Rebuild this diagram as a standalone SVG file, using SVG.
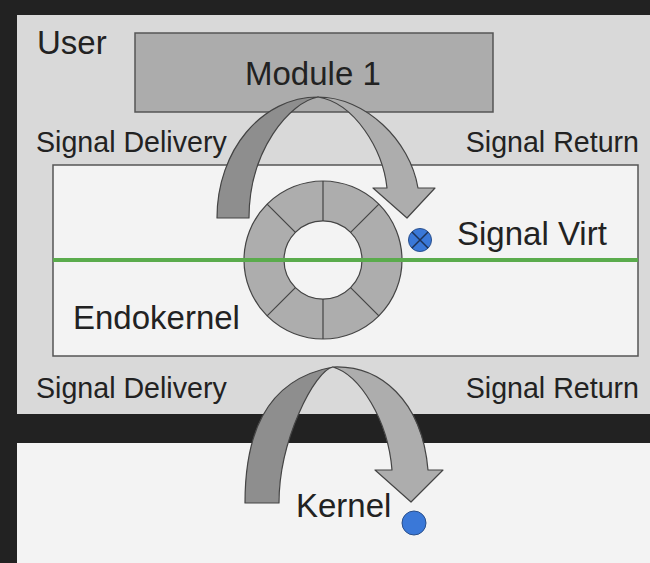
<svg xmlns="http://www.w3.org/2000/svg" width="650" height="563" viewBox="0 0 650 563">
  <style>
    text { font-family: "Liberation Sans", Arial, Helvetica, sans-serif; fill: #222; }
    .big { font-size: 33px; }
    .sig { font-size: 28.6px; }
    .box { stroke: #555; stroke-width: 1.5; }
    .edge { stroke: #444; stroke-width: 1.2; stroke-linejoin: round; }
    .dark { fill: #8e8e8e; }
    .light { fill: #adadad; }
    .dot { fill: #3a78d8; stroke: #2a4f8a; stroke-width: 1; }
  </style>

  <!-- background frame -->
  <rect x="0" y="0" width="650" height="563" fill="#222"/>

  <!-- user space panel -->
  <g id="user">
    <rect x="17" y="15" width="633" height="399" fill="#d9d9d9"/>
    <text class="big" x="37" y="54">User</text>
  </g>

  <!-- kernel panel -->
  <g id="kernel">
    <rect x="17" y="443" width="633" height="120" fill="#f3f3f3"/>
    <text class="big" x="296" y="517">Kernel</text>
  </g>

  <!-- module box -->
  <g id="module1">
    <rect class="box" x="135" y="33" width="358" height="79" fill="#acacac"/>
    <text class="big" x="245" y="85">Module 1</text>
  </g>

  <!-- endokernel box -->
  <g id="endokernel">
    <rect class="box" x="53" y="165" width="585" height="191" fill="#f3f3f3"/>
    <text class="big" x="73" y="329">Endokernel</text>
  </g>

  <!-- gate ring -->
  <g id="ring">
    <path class="edge light" fill-rule="evenodd"
          d="M402,260 A79,79 0 1 0 244,260 A79,79 0 1 0 402,260 Z M362,260 A39,39 0 1 1 284,260 A39,39 0 1 1 362,260 Z"/>
    <g class="edge">
      <line x1="323" y1="221" x2="323" y2="181"/>
      <line x1="323" y1="299" x2="323" y2="339"/>
      <line x1="284" y1="260" x2="244" y2="260"/>
      <line x1="362" y1="260" x2="402" y2="260"/>
      <line x1="295.4" y1="232.4" x2="267.1" y2="204.1"/>
      <line x1="350.6" y1="232.4" x2="378.9" y2="204.1"/>
      <line x1="295.4" y1="287.6" x2="267.1" y2="315.9"/>
      <line x1="350.6" y1="287.6" x2="378.9" y2="315.9"/>
    </g>
  </g>

  <!-- privilege boundary -->
  <line id="boundary" x1="53" y1="260" x2="638" y2="260" stroke="#5aab4c" stroke-width="4"/>

  <!-- signal virtualization point -->
  <g id="signal-virt">
    <circle class="dot" cx="420" cy="240" r="11.5"/>
    <path d="M412,232 L428,248 M428,232 L412,248" stroke="#1e3358" stroke-width="1.5"/>
    <text class="big" x="457" y="245">Signal Virt</text>
  </g>

  <!-- kernel signal point -->
  <g id="kernel-dot">
    <circle class="dot" cx="414" cy="523" r="12"/>
  </g>

  <!-- labels -->
  <g id="labels">
    <text class="sig" x="36" y="152">Signal Delivery</text>
    <text class="sig" x="639" y="152" text-anchor="end">Signal Return</text>
    <text class="sig" x="36" y="398">Signal Delivery</text>
    <text class="sig" x="639" y="398" text-anchor="end">Signal Return</text>
  </g>

  <!-- connectors: curved delivery/return arrows -->
  <g id="connectors">
    <g id="arrow-upper">
      <path class="edge dark" d="M217,218 C217,150 262,97 318,97 C290,102 249,150 249,218 Z"/>
      <path class="edge light" d="M318,97 C365,97 410,140 418,188 L435,188 L407,218 L373,188 L387,188 C383,150 355,103 318,97 Z"/>
    </g>
    <g id="arrow-lower">
      <path class="edge dark" d="M245,503 C245,440 262,380 333,367 C315,370 279,440 279,503 Z"/>
      <path class="edge light" d="M333,367 C380,365 422,400 428,470 L443,470 L411,502 L375,470 L392,470 C388,420 360,375 333,367 Z"/>
    </g>
  </g>
</svg>
